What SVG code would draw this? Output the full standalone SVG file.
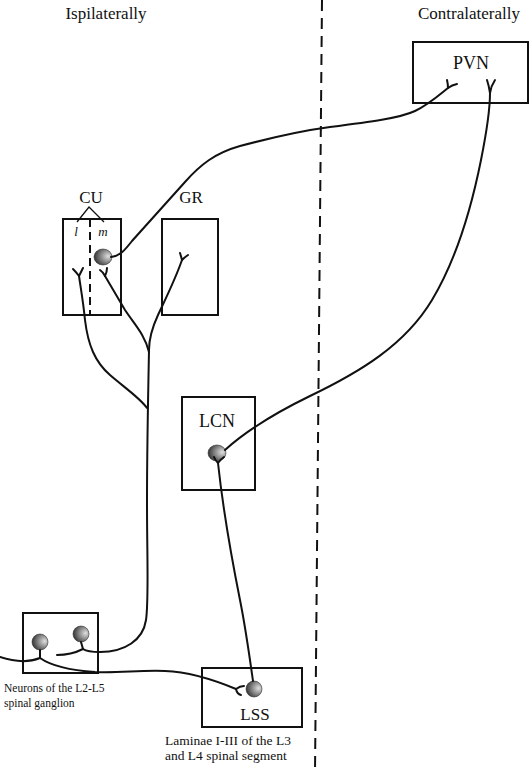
<svg xmlns="http://www.w3.org/2000/svg" width="530" height="773" viewBox="0 0 530 773">
<style>
.box{fill:none;stroke:#111;stroke-width:2}
.c{fill:none;stroke:#111;stroke-width:2;stroke-linecap:round}
.lbl{font-family:"Liberation Serif","Times New Roman",serif;fill:#111}
.neu{fill:url(#ng);stroke:#333;stroke-width:0.6}
</style>
<defs>
<radialGradient id="ng" cx="0.7" cy="0.45" r="0.8" fx="0.8" fy="0.45">
<stop offset="0" stop-color="#e0e0e0"/>
<stop offset="0.45" stop-color="#8a8a8a"/>
<stop offset="1" stop-color="#1e1e1e"/>
</radialGradient>
</defs>
<rect width="530" height="773" fill="#fff"/>
<g id="midline"><line x1="322" y1="0" x2="315" y2="773" stroke="#111" stroke-width="2" stroke-dasharray="11,7"/></g>
<g id="titles">
<text class="lbl" x="106" y="19" font-size="17" text-anchor="middle">Ispilaterally</text>
<text class="lbl" x="469" y="19" font-size="17" text-anchor="middle">Contralaterally</text>
</g>
<g id="PVN">
<rect class="box" x="413" y="42" width="115" height="61"/>
<text class="lbl" x="471" y="69" font-size="18" text-anchor="middle">PVN</text>
</g>
<g id="CU">
<rect class="box" x="63" y="219" width="58" height="96"/>
<line x1="90" y1="219" x2="90" y2="315" stroke="#111" stroke-width="2" stroke-dasharray="8,5"/>
<text class="lbl" x="91" y="203" font-size="17" text-anchor="middle">CU</text>
<path d="M77,222 L89,207 L104,222" fill="none" stroke="#111" stroke-width="1.3"/>
<text class="lbl" x="76" y="236" font-size="13" font-style="italic" text-anchor="middle">l</text>
<text class="lbl" x="103" y="236" font-size="13" font-style="italic" text-anchor="middle">m</text>
<ellipse class="neu" cx="103" cy="257" rx="9" ry="8"/>
</g>
<g id="GR">
<rect class="box" x="162" y="219" width="56" height="96"/>
<text class="lbl" x="191" y="203" font-size="17" text-anchor="middle">GR</text>
</g>
<g id="LCN">
<rect class="box" x="182" y="397" width="73" height="93"/>
<text class="lbl" x="217" y="427" font-size="18" text-anchor="middle">LCN</text>
<ellipse class="neu" cx="217" cy="453" rx="9" ry="8"/>
</g>
<g id="ganglion">
<rect class="box" x="23" y="613" width="75" height="60"/>
<ellipse class="neu" cx="40" cy="642" rx="8" ry="8"/>
<ellipse class="neu" cx="81" cy="634" rx="8" ry="8"/>
<text class="lbl" x="4" y="692" font-size="11.5">Neurons of the L2-L5</text>
<text class="lbl" x="4" y="707" font-size="11.5">spinal ganglion</text>
</g>
<g id="LSS">
<rect class="box" x="202" y="668" width="100" height="59"/>
<ellipse class="neu" cx="254" cy="689" rx="8" ry="8"/>
<text class="lbl" x="255" y="720" font-size="17" text-anchor="middle">LSS</text>
<text class="lbl" x="165" y="745" font-size="13.5">Laminae I-III of the L3</text>
<text class="lbl" x="165" y="760" font-size="13.5">and L4 spinal segment</text>
</g>
<g id="connectors">
<path class="c" d="M111,257 C120,256 125,250 132,241 L185,182 C200,165 215,153 240,146 C270,138 300,131 330,127 C370,122 400,118 415,111 C428,105 438,96 448,88"/>
<path class="c" d="M448,88 Q448,84 447,80 M448,88 Q452,85 457,84"/>
<path class="c" d="M490,93 C490,110 487,130 481,160 C471,210 456,260 432,300 C405,345 360,372 310,396 C275,413 245,432 225,450"/>
<path class="c" d="M490,93 Q489,86 487,80 M490,93 Q491,86 495,80"/>
<path class="c" d="M182,260 C175,280 165,300 158,315 C152,328 149,340 149,350 C148,400 147,450 147,500 C147,560 149,600 146,620 C143,640 125,652 100,652 C92,652 86,651 83,649"/>
<path class="c" d="M182,260 Q181,256 180,253 M182,260 Q185,257 188,255"/>
<path class="c" d="M105,276 C112,288 118,298 125,310 C135,325 145,335 149,352"/>
<path class="c" d="M105,276 Q103,272 100,270 M105,276 Q107,272 107,268"/>
<path class="c" d="M79,276 C81,290 83,300 85,320 C88,345 95,362 110,375 C125,388 140,398 147,408"/>
<path class="c" d="M79,276 Q76,272 73,269 M79,276 Q81,272 83,268"/>
<path class="c" d="M81,642 L83,649 C75,653 65,655 57,655"/>
<path class="c" d="M40,650 L40,658 C30,662 15,662 0,657"/>
<path class="c" d="M40,658 C50,665 65,670 95,672 C120,673 140,670 165,671 C190,672 212,679 236,689"/>
<path class="c" d="M236,689 Q240,686 244,686 M236,689 Q237,694 241,695"/>
<path class="c" d="M218,463 C222,500 230,550 240,600 C246,630 250,660 253,681"/>
<path class="c" d="M218,463 Q215,460 214,457 M218,463 Q221,459 224,457"/>
</g>
</svg>
